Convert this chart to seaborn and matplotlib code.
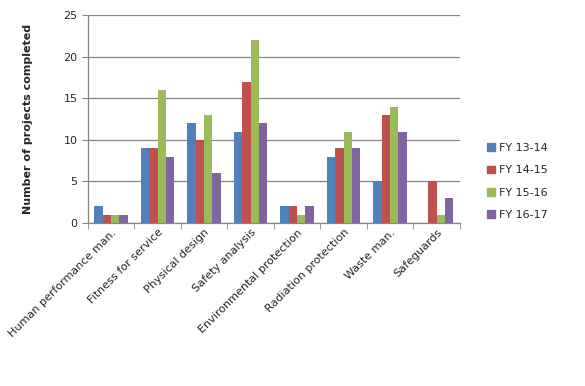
import matplotlib.pyplot as plt
import matplotlib.patches as mpatches
from matplotlib.ticker import FixedLocator
import seaborn as sns
import numpy as np
import pandas as pd

categories = ["Human performance man.", "Fitness for service", "Physical design",
              "Safety analysis", "Environmental protection", "Radiation protection",
              "Waste man.", "Safeguards"]
years = ["FY 13-14", "FY 14-15", "FY 15-16", "FY 16-17"]
fy_13_14 = [2, 9, 12, 11, 2, 8, 5, 0]
fy_14_15 = [1, 9, 10, 17, 2, 9, 13, 5]
fy_15_16 = [1, 16, 13, 22, 1, 11, 14, 1]
fy_16_17 = [1, 8, 6, 12, 2, 9, 11, 3]
colors = ["#4F81BD", "#C0504D", "#9BBB59", "#8064A2"]

rows = []
for yr, vals in zip(years, [fy_13_14, fy_14_15, fy_15_16, fy_16_17]):
    for cat, v in zip(categories, vals):
        rows.append({"category": cat, "year": yr, "count": v})
df = pd.DataFrame(rows)

sns.set_style("white")
plt.rcParams['font.family'] = ['DejaVu Sans']

fig = plt.figure(figsize=(5.85, 3.86), dpi=100)
ax = fig.add_axes([0.150, 0.422, 0.636, 0.539])

sns.barplot(data=df, x="category", y="count", hue="year", palette=colors,
            width=0.72, gap=0, saturation=1, linewidth=0, ax=ax, legend=False)

ax.set_ylim(0, 25)
ax.set_xlim(-0.5, len(categories) - 0.5)
ax.set_yticks(range(0, 26, 5))
ax.yaxis.grid(True, color="#868686", linewidth=0.9)
ax.set_axisbelow(True)
for s in ["top", "right"]:
    ax.spines[s].set_visible(False)
for s in ["left", "bottom"]:
    ax.spines[s].set_color("#868686")
    ax.spines[s].set_linewidth(0.9)

ax.set_xlabel("")
ax.set_ylabel("Number of projects completed", fontsize=8, fontweight="bold", labelpad=22)
ax.tick_params(axis="y", labelsize=8, length=4, color="#868686", direction="out", left=True)
ax.tick_params(axis="x", which="major", length=0, labelsize=8, pad=3)
ax.xaxis.set_minor_locator(FixedLocator(np.arange(-0.5, len(categories), 1.0)))
ax.tick_params(axis="x", which="minor", length=4, color="#868686", direction="out", bottom=True)
plt.setp(ax.get_xticklabels(), rotation=45, ha="right", rotation_mode="anchor")

handles = [mpatches.Patch(color=c, label=y) for c, y in zip(colors, years)]
fig.legend(handles=handles, loc="upper left", bbox_to_anchor=(0.815, 0.655),
           frameon=False, fontsize=8, handlelength=0.7, handleheight=0.7,
           handletextpad=0.4, labelspacing=1.1)

fig.savefig("out.png", dpi=100)
